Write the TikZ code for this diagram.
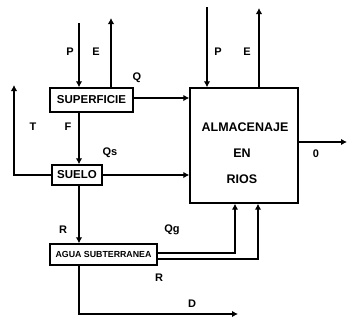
\documentclass[tikz,border=0pt]{standalone}
\usepackage{fontspec}
\setmainfont{Liberation Sans}
\usetikzlibrary{arrows.meta}
\begin{document}
\begin{tikzpicture}[x=1pt,y=1pt,
  flow/.style={line width=1.4pt,-{Latex[length=6pt,width=6.5pt]}},
  blk/.style={draw,line width=1.4pt,inner sep=0pt,font=\bfseries\fontsize{11.5}{13}\selectfont},
  lbl/.style={font=\bfseries\fontsize{11}{13}\selectfont,inner sep=0pt},
  big/.style={font=\bfseries\fontsize{12.5}{14}\selectfont,inner sep=0pt}]
\useasboundingbox (0,0) rectangle (349,-325);
% boxes
\node[blk,minimum width=83,minimum height=24] (sup) at (91.5,-100) {SUPERFICIE};
\node[blk,minimum width=50,minimum height=20] (suelo) at (77,-175) {SUELO};
\node[blk,minimum width=107,minimum height=21,font=\bfseries\fontsize{8.8}{10}\selectfont] (agua) at (103.5,-254.5) {AGUA SUBTERRANEA};
\node[draw,line width=1.4pt,minimum width=108,minimum height=115,inner sep=0pt] (alm) at (244,-145.5) {};
\node[big] (t1) at (245,-127) {ALMACENAJE};
\node[big] (t2) at (242,-153) {EN};
\node[big] (t3) at (242,-179) {RIOS};
% free ends
\coordinate (pTop) at (79,-23);
\coordinate (eTop) at (111,-18);
\coordinate (tTop) at (14,-85);
\coordinate (pTop2) at (207,-7);
\coordinate (eTop2) at (259,-8);
\coordinate (oEnd) at (347,-142);
\coordinate (dEnd) at (238,-314);
% connectors
\draw[flow] (pTop) -- (pTop |- sup.north);
\draw[flow] (eTop |- sup.north) -- (eTop);
\draw[flow] ([yshift=2]sup.east) -- ([yshift=2]sup.east -| alm.west);
\draw[flow] (pTop |- sup.south) -- (pTop |- suelo.north);
\draw[flow] (suelo.west) -| (tTop);
\draw[flow] (suelo.east) -- (suelo.east -| alm.west);
\draw[flow] (pTop |- suelo.south) -- (pTop |- agua.north);
\draw[flow] ([yshift=1.5]agua.east) -| ([xshift=-9]alm.south);
\draw[flow] ([yshift=-4.5]agua.east) -| ([xshift=14]alm.south);
\draw[flow] (pTop |- agua.south) |- (dEnd);
\draw[flow] (pTop2) -- (pTop2 |- alm.north);
\draw[flow] (eTop2 |- alm.north) -- (eTop2);
\draw[flow] ([yshift=3.5]alm.east) -- (oEnd);
% labels
\node[lbl] (lP) at (70,-52) {P};
\node[lbl] (lE) at (96,-52) {E};
\node[lbl] (lQ) at (137,-78) {Q};
\node[lbl] (lT) at (33,-127) {T};
\node[lbl] (lF) at (68,-127) {F};
\node[lbl] (lQs) at (110,-153) {Qs};
\node[lbl] (lR) at (63,-230) {R};
\node[lbl] (lQg) at (172,-230) {Qg};
\node[lbl] (lR2) at (159,-278) {R};
\node[lbl] (lD) at (192,-304) {D};
\node[lbl] (lP2) at (218,-52) {P};
\node[lbl] (lE2) at (247,-52) {E};
\node[lbl] (lO) at (316,-154) {0};
\end{tikzpicture}
\end{document}
